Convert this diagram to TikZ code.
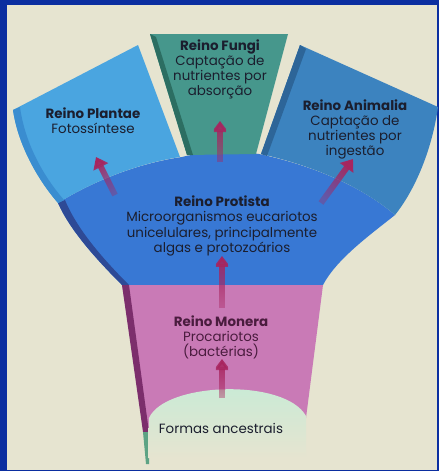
\documentclass[tikz,border=0pt]{standalone}
\usepackage{fontspec}
\setmainfont{Poppins}
\usetikzlibrary{arrows.meta,fadings}

\definecolor{frameblue}{HTML}{0B2EA0}
\definecolor{creambg}{HTML}{E6E4D0}
\definecolor{plantaeblue}{HTML}{4AA5E0}
\definecolor{plantaeside}{HTML}{3A8DD0}
\definecolor{fungiteal}{HTML}{46978C}
\definecolor{fungiside}{HTML}{2C6E62}
\definecolor{animaliablue}{HTML}{3C83BF}
\definecolor{animaliaside}{HTML}{2D6598}
\definecolor{protistablue}{HTML}{3878D4}
\definecolor{protistaside}{HTML}{2E4A96}
\definecolor{monerapink}{HTML}{C97AB6}
\definecolor{moneraside}{HTML}{7C2E6C}
\definecolor{formasgreen}{HTML}{C6EBD6}
\definecolor{stemgreen}{HTML}{5DA384}
\definecolor{arrowred}{HTML}{A8245E}
\definecolor{textdark}{HTML}{1B1E2E}
\definecolor{textplum}{HTML}{4A1C3E}

\tikzfading[name=tailfade, bottom color=transparent!65, top color=transparent!0]

\tikzset{
  kingdom/.style ={align=center,inner sep=0pt,text=textdark,
                   font=\fontsize{13.4}{15.2}\selectfont},
  evo/.style     ={draw=arrowred,line width=6pt,
                   -{Triangle[width=16pt,length=11pt]},path fading=tailfade},
}

\begin{document}
\begin{tikzpicture}[x=1pt,y=-1pt]
  \useasboundingbox (0,0) rectangle (439,471);
  % frame
  \fill[frameblue] (0,0) rectangle (439,471);
  \fill[creambg] (7,5) rectangle (437,470);

  % Reino Protista
  \fill[protistablue] (58,203) .. controls (95,180) and (140,163) .. (182,157)
     .. controls (205,151) and (240,151) .. (259,154)
     .. controls (310,165) and (360,185) .. (395,215)
     .. controls (370,235) and (335,260) .. (322,287) -- (122,285)
     .. controls (95,258) and (70,230) .. cycle;
  \fill[protistaside] (58,203) .. controls (70,230) and (95,258) .. (122,285)
     -- (129,285) .. controls (102,258) and (77,229) .. (65,200) -- cycle;

  % Reino Plantae
  \fill[plantaeblue] (13,110) -- (138,45) -- (180,157)
     .. controls (140,163) and (95,180) .. (58,203)
     .. controls (38,180) and (18,145) .. cycle;
  \fill[plantaeside] (13,110) .. controls (18,145) and (38,180) .. (58,203)
     -- (64,200) .. controls (44,177) and (25,144) .. (20,107) -- cycle;

  % Reino Animalia
  \fill[animaliablue] (300,45) -- (438,107)
     .. controls (432,150) and (415,190) .. (395,215)
     .. controls (360,185) and (310,165) .. (261,154) -- cycle;
  \fill[animaliaside] (300,45) -- (306,49) -- (267,156) -- (261,154) -- cycle;

  % Reino Fungi
  \fill[fungiteal] (150,34) -- (288,34) -- (256,154) -- (187,155) -- cycle;
  \fill[fungiside] (150,34) -- (156,37) -- (193,155) -- (187,155) -- cycle;

  % Reino Monera
  \fill[monerapink] (122,285) -- (323,285) -- (306,418) -- (146,436) -- cycle;
  \fill[moneraside] (122,285) -- (129,285) -- (149,432) -- (143,432) -- cycle;
  \fill[stemgreen] (143,432) -- (149,432) -- (149,464) -- (146,464) -- cycle;

  % formas ancestrais
  \shade[top color=formasgreen,middle color=formasgreen,bottom color=creambg]
     (148,458) -- (149,418) .. controls (165,382) and (285,378) .. (306,416)
     -- (306,458) -- cycle;

  % texts
  \node[kingdom] (plantaeTxt) at (93,121)
     {\textbf{Reino Plantae}\\Fotossíntese};
  \node[kingdom] (fungiTxt) at (220,69.5)
     {\textbf{Reino Fungi}\\Captação de\\nutrientes por\\absorção};
  \node[kingdom] (animaliaTxt) at (355,129.5)
     {\textbf{Reino Animalia}\\Captação de\\nutrientes por\\ingestão};
  \node[kingdom] (protistaTxt) at (222,226)
     {\textbf{Reino Protista}\\Microorganismos eucariotos\\unicelulares, principalmente\\algas e protozoários};
  \node[kingdom,text=textplum] (moneraTxt) at (221,337.5)
     {\textbf{Reino Monera}\\Procariotos\\(bactérias)};
  \node[kingdom] (formasTxt) at (221,428) {Formas ancestrais};

  % evolution arrows
  \coordinate (formasTop)   at (222,398);
  \coordinate (moneraIn)    at (222,359);
  \coordinate (moneraTop)   at (222,308);
  \coordinate (protistaIn)  at (222,256);
  \coordinate (protistaTop) at (220,162);
  \coordinate (fungiIn)     at (220,121);
  \coordinate (protistaL)   at (115,195);
  \coordinate (plantaeIn)   at (96,157);
  \coordinate (protistaR)   at (321,203);
  \coordinate (animaliaIn)  at (353,159);
  \draw[evo] (formasTop) -- (moneraIn);
  \draw[evo] (moneraTop) -- (protistaIn);
  \draw[evo] (protistaTop) -- (fungiIn);
  \draw[evo,fading angle=27] (protistaL) -- (plantaeIn);
  \draw[evo,fading angle=-37] (protistaR) -- (animaliaIn);
\end{tikzpicture}
\end{document}
